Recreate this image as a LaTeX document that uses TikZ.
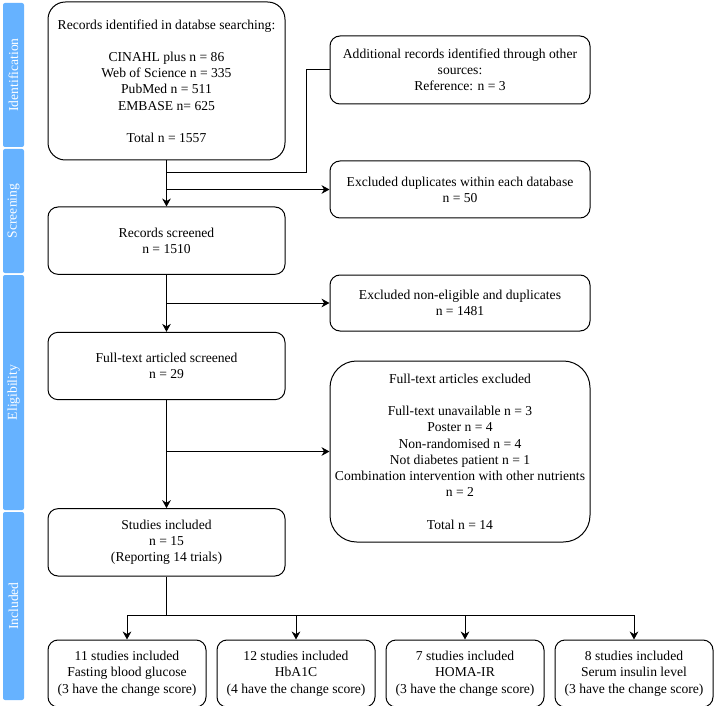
\documentclass[tikz,border=0pt]{standalone}
\usepackage{fontspec}
\setmainfont{Liberation Serif}
\usetikzlibrary{positioning, arrows.meta, calc}
\definecolor{phasebar}{HTML}{66B2FF}
\tikzset{
    box/.style={draw, rounded corners=7.5pt, align=center, inner sep=2pt,
        font=\fontsize{10.2}{12.2}\selectfont},
    mainbox/.style={box, minimum width=177.75pt, minimum height=50.5pt},
    sidebox/.style={box, minimum width=195pt},
    outbox/.style={box, minimum width=118.5pt, minimum height=50.25pt},
    phase/.style={fill=phasebar, rounded corners=1.5pt, rotate=90, text=white,
        font=\fontsize{10.2}{12.2}\selectfont, minimum height=15.75pt, inner sep=0pt},
}

\begin{document}
\begin{tikzpicture}[x=0.75pt, y=-0.75pt, line width=0.75pt,
    >={Stealth[length=6pt, width=6.5pt]}]
    \useasboundingbox (0,0) rectangle (714,706);

    % phases
    \node[phase, minimum width=108pt] (idf) at (13.5,75) {Identification};
    \node[phase, minimum width=93pt] (scrn) at (13.5,211) {Screening};
    \node[phase, minimum width=176.25pt] (elig) at (13.5,392.5) {Eligibility};
    \node[phase, minimum width=141pt] (incl) at (13.5,606) {Included};

    % main column
    \node[mainbox, minimum height=118.5pt, rounded corners=13pt] (rec) at (166.5,81)
        {Records identified in databse searching:\\[12pt]
         CINAHL plus n = 86\\ Web of Science n = 335\\ PubMed n = 511\\
         EMBASE n= 625\\[12pt] Total n = 1557};
    \node[mainbox] (scr) [below=34.5pt of rec] {Records screened\\ n = 1510};
    \node[mainbox] (ft) [below=42.75pt of scr] {Full-text articled screened\\ n = 29};
    \node[mainbox] (inc) [below=81pt of ft]
        {Studies included\\ n = 15\\ (Reporting 14 trials)};

    % side column
    \node[sidebox, minimum height=51pt] (add) at (460,70)
        {Additional records identified through other\\ sources:\\ Reference: n = 3};
    \node[sidebox, minimum height=42.75pt] (dup) [below=42pt of add]
        {Excluded duplicates within each database\\ n = 50};
    \node[sidebox, minimum height=42pt] (nel) [below=42pt of dup]
        {Excluded non-eligible and duplicates\\ n = 1481};
    \node[sidebox, minimum height=135.75pt, rounded corners=20pt] (fte) [below=21.75pt of nel]
        {Full-text articles excluded\\[12pt]
         Full-text unavailable n = 3\\ Poster n = 4\\ Non-randomised n = 4\\
         Not diabetes patient n = 1\\ Combination intervention with other nutrients\\
         n = 2\\[12pt] Total n = 14};

    % outcomes
    \node[outbox] (fbg) [below=47.25pt of inc.south west, anchor=north west]
        {11 studies included\\ Fasting blood glucose\\ (3 have the change score)};
    \node[outbox] (hba) [right=7.5pt of fbg]
        {12 studies included\\ HbA1C\\ (4 have the change score)};
    \node[outbox] (homa) [right=7.5pt of hba]
        {7 studies included\\ HOMA-IR\\ (3 have the change score)};
    \node[outbox] (ins) [right=7.5pt of homa]
        {8 studies included\\ Serum insulin level\\ (3 have the change score)};

    \coordinate (mrg) at ($(rec.south)+(0,12)$);
    \coordinate (split) at ($(inc.south)+(0,39)$);

    \path[->]
    (rec) edge (scr)
    (scr) edge (ft)
    (ft) edge (inc)
    (rec.south |- dup.west) edge (dup)
    (scr.south |- nel.west) edge (nel)
    (ft.south |- fte.west) edge (fte)
    ;
    \draw (add.west) -- ++(-23,0) |- (mrg);
    \draw (inc) -- (split);
    \foreach \o in {fbg, hba, homa, ins}
        \draw[->] (split) -| (\o);
\end{tikzpicture}
\end{document}
